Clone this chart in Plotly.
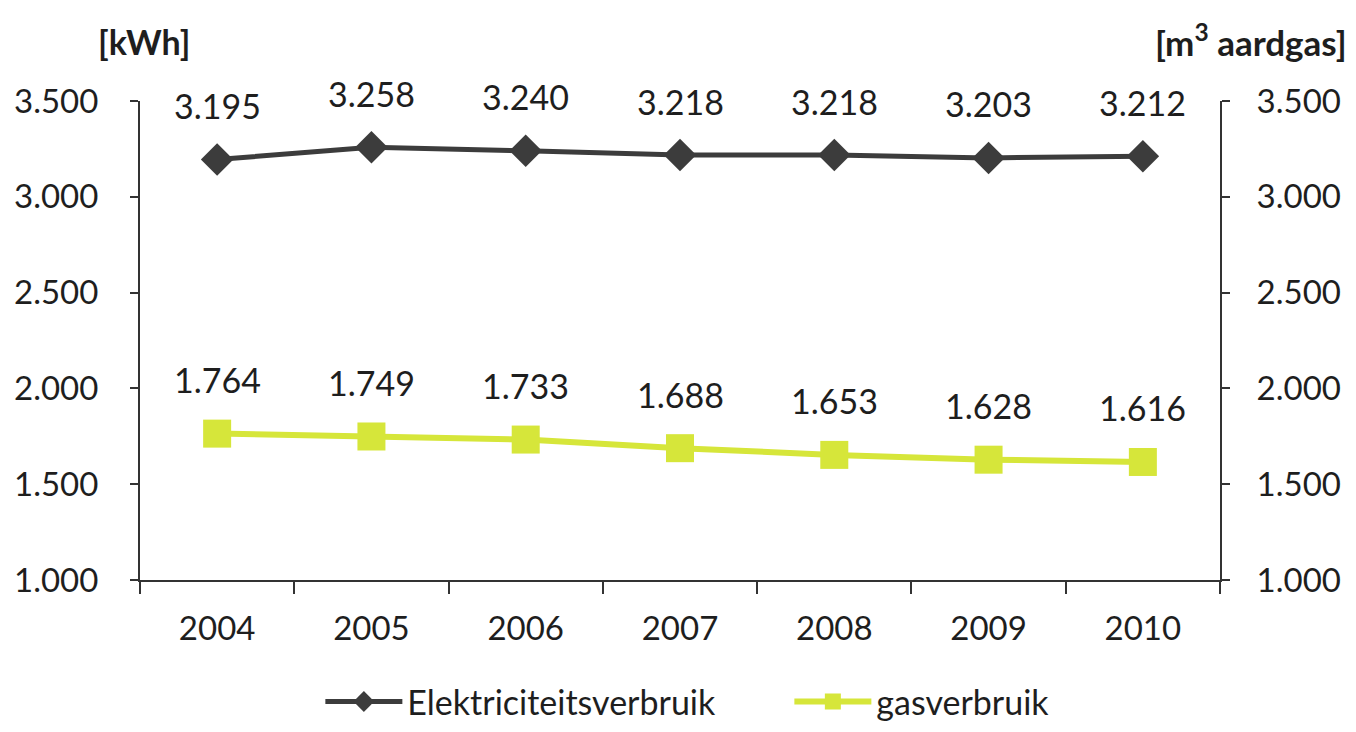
import plotly.graph_objects as go

years = ["2004", "2005", "2006", "2007", "2008", "2009", "2010"]
elektriciteit = [3195, 3258, 3240, 3218, 3218, 3203, 3212]
gas = [1764, 1749, 1733, 1688, 1653, 1628, 1616]
y_ticks = [1000, 1500, 2000, 2500, 3000, 3500]

ELEC_COLOR = "#3c3c3c"
GAS_COLOR = "#d6e63a"
FONT = "Lato, Open Sans, sans-serif"
TEXT_COLOR = "#1e1e1e"


def nl(v):
    return f"{v:,}".replace(",", ".")


fig = go.Figure()
fig.add_trace(go.Scatter(
    x=years, y=elektriciteit, name="Elektriciteitsverbruik",
    mode="lines+markers",
    line=dict(color=ELEC_COLOR, width=5),
    marker=dict(symbol="diamond", size=25, color=ELEC_COLOR),
    yaxis="y",
))
fig.add_trace(go.Scatter(
    x=years, y=gas, name="gasverbruik",
    mode="lines+markers",
    line=dict(color=GAS_COLOR, width=6),
    marker=dict(symbol="square", size=28, color=GAS_COLOR),
    yaxis="y2",
))

# value labels above each point (category axis positions by index)
annotations = []
for i, v in enumerate(elektriciteit):
    annotations.append(dict(x=i, y=v, xref="x", yref="y", text=nl(v),
                            showarrow=False, yshift=54,
                            font=dict(size=34, color=TEXT_COLOR, family=FONT)))
for i, v in enumerate(gas):
    annotations.append(dict(x=i, y=v, xref="x", yref="y2", text=nl(v),
                            showarrow=False, yshift=54,
                            font=dict(size=34, color=TEXT_COLOR, family=FONT)))

# axis unit titles
annotations.append(dict(x=0.004, y=1.0, xref="paper", yref="paper", yshift=60,
                        xanchor="center", yanchor="middle",
                        text="<b>[kWh]</b>", showarrow=False,
                        font=dict(size=34, color=TEXT_COLOR, family=FONT)))
annotations.append(dict(x=1.119, y=1.0, xref="paper", yref="paper", yshift=61,
                        xanchor="right", yanchor="middle",
                        text="<b>[m<sup>3</sup> aardgas]</b>", showarrow=False,
                        font=dict(size=35, color=TEXT_COLOR, family=FONT)))

tick_text = [nl(v) for v in y_ticks]
axis_common = dict(
    range=[1000, 3500], tickvals=y_ticks, ticktext=tick_text,
    showgrid=False, zeroline=False, showline=True, linecolor="#333333",
    linewidth=2, ticks="outside", ticklen=8, tickwidth=2, tickcolor="#333333",
    tickfont=dict(size=33, color=TEXT_COLOR, family=FONT),
)

fig.update_layout(
    width=1356, height=732,
    margin=dict(l=140, r=136, t=101, b=152, autoexpand=False),
    paper_bgcolor="white", plot_bgcolor="white",
    font=dict(family=FONT, color=TEXT_COLOR),
    xaxis=dict(
        type="category", range=[-0.5, 6.5], showgrid=False, zeroline=False,
        showline=True, linecolor="#333333", linewidth=2,
        ticks="outside", tickson="boundaries", ticklen=12, tickwidth=2,
        tickcolor="#333333",
        tickfont=dict(size=33, color=TEXT_COLOR, family=FONT),
        ticklabelstandoff=18,
    ),
    yaxis=dict(side="left", ticklabelstandoff=25, **axis_common),
    yaxis2=dict(side="right", overlaying="y", ticklabelstandoff=20, **axis_common),
    legend=dict(orientation="h", x=0.167, xanchor="left", y=-0.315,
                yanchor="bottom", font=dict(size=34, color=TEXT_COLOR, family=FONT),
                itemwidth=77, entrywidth=377, entrywidthmode="pixels"),
    showlegend=True,
    annotations=annotations,
)

fig.write_html("out.html")
